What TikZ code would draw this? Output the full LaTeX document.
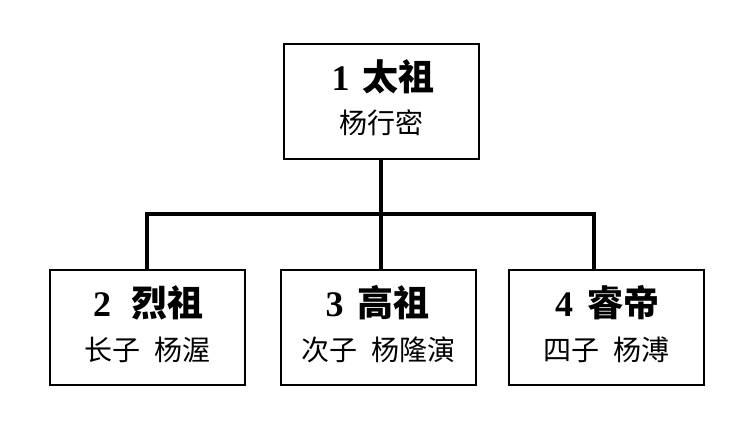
\documentclass[tikz,border=0pt]{standalone}
\usepackage{fontspec}
\setmainfont{Liberation Serif}
\newfontfamily\cjk{Noto Sans CJK SC}
\begin{document}
\begin{tikzpicture}[x=1pt,y=-1pt,
  box/.style={draw=black, line width=2pt, minimum width=195pt, minimum height=115pt, inner sep=0pt},
  conn/.style={draw=black, line width=4pt, line join=miter},
  titletxt/.style={inner sep=0pt, font=\fontsize{36}{38}\selectfont},
  subtxt/.style={inner sep=0pt, font=\fontsize{28}{30}\selectfont\cjk}]
\fill[white] (0,0) rectangle (750,430);
\useasboundingbox (0,0) rectangle (750,430);
\node[box] (b1) at (381.5,101.5) {};
\node[box] (b2) at (147,327.5) {};
\node[box] (b3) at (378.5,327.5) {};
\node[box] (b4) at (606,327.5) {};
\coordinate (j2) at (147,214);
\coordinate (j3) at (381,214);
\coordinate (j4) at (594,214);
\draw[conn] (b1.south -| j3) -- (j3 |- b3.north);
\draw[conn] (j2 |- b2.north) -- (j2) -- (j4) -- (j4 |- b4.north);
\node[titletxt] (t1) at (383,77) {\textbf{1}\hspace{13pt}{\cjk\bfseries 太祖}};
\node[subtxt] (s1) at (381,123) {杨行密};
\node[titletxt] (t2) at (148,303) {\textbf{2}\hspace{20pt}{\cjk\bfseries 烈祖}};
\node[subtxt] (s2) at (147.5,350) {长子\hspace{14pt}杨渥};
\node[titletxt] (t3) at (377.5,303) {\textbf{3}\hspace{14pt}{\cjk\bfseries 高祖}};
\node[subtxt] (s3) at (378,350) {次子\hspace{14pt}杨隆演};
\node[titletxt] (t4) at (607,303) {\textbf{4}\hspace{14pt}{\cjk\bfseries 睿帝}};
\node[subtxt] (s4) at (606.5,350) {四子\hspace{14pt}杨溥};
\end{tikzpicture}
\end{document}
